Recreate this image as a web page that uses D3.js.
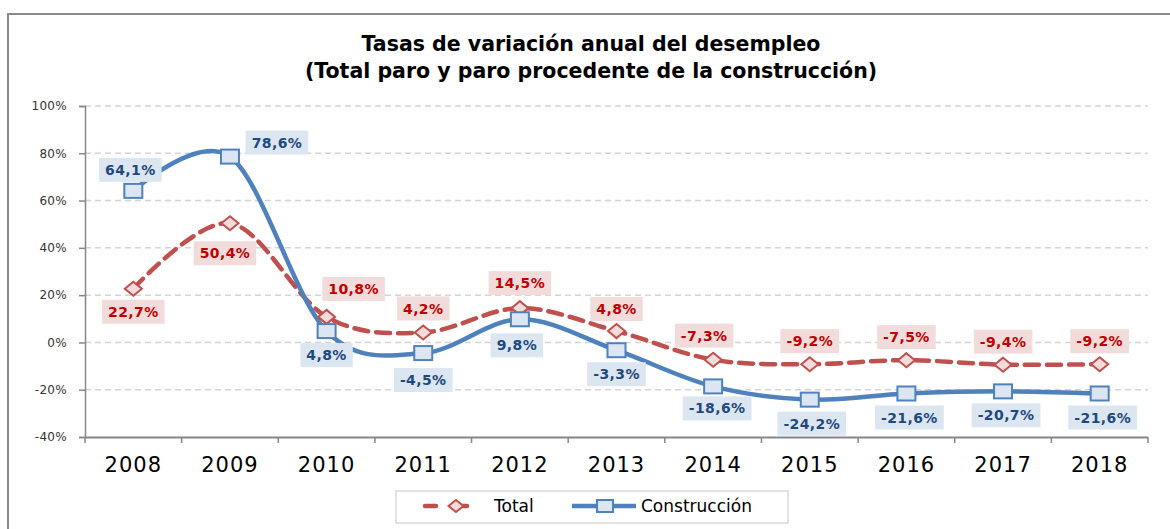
<!DOCTYPE html>
<html>
<head>
<meta charset="utf-8">
<script src="https://cdn.jsdelivr.net/npm/d3@7"></script>
<style>
  html, body { margin: 0; padding: 0; background: #ffffff; }
  svg { display: block; }
</style>
</head>
<body>
<svg id="chart" width="1170" height="529"></svg>
<script>
// ---- Data ----
const years = ["2008","2009","2010","2011","2012","2013","2014","2015","2016","2017","2018"];
const totalValues = [22.7, 50.4, 10.8, 4.2, 14.5, 4.8, -7.3, -9.2, -7.5, -9.4, -9.2];
const construccionValues = [64.1, 78.6, 4.8, -4.5, 9.8, -3.3, -18.6, -24.2, -21.6, -20.7, -21.6];
const yTickValues = [-40, -20, 0, 20, 40, 60, 80, 100];
const seriesNames = ["Total", "Construcción"];
const titleLines = ["Tasas de variación anual del desempleo", "(Total paro y paro procedente de la construcción)"];

// ---- Label placement (layout, pixel offsets from the point) ----
const totalLabelOffsets = [[0,23],[-5,30],[27,-28],[0,-24],[0,-25],[0,-22],[-9,-24],[0,-23],[0,-23],[0,-23],[0,-23]];
const consLabelOffsets = [[-3,-21],[47,-14],[0,24],[0,27],[-3,26],[0,24],[4,22],[2,24],[3,24],[3,24],[3,24]];

const fmt = v => (v < 0 ? "-" : "") + Math.abs(v).toFixed(1).replace(".", ",") + "%";

const svg = d3.select("#chart");

// outer frame
svg.append("rect").attr("x", 8).attr("y", 14).attr("width", 1200).attr("height", 600)
  .attr("fill", "none").attr("stroke", "#8a8a8a").attr("stroke-width", 2);

const pLeft = 85, pRight = 1148, pTop = 106, pBottom = 437;
const x = d3.scaleBand().domain(years).range([pLeft, pRight]).paddingInner(0).paddingOuter(0);
const y = d3.scaleLinear().domain([-40, 100]).range([pBottom, pTop]);
const cx = d => x(d) + x.bandwidth() / 2;

// title
const title = svg.append("text").attr("text-anchor", "middle")
  .attr("font-family", "DejaVu Sans, Verdana, sans-serif").attr("font-weight", "bold")
  .attr("font-size", 20.5).attr("fill", "#000");
title.append("tspan").attr("x", 591).attr("y", 51).text(titleLines[0]);
title.append("tspan").attr("x", 591).attr("y", 78).text(titleLines[1]);

// gridlines
svg.append("g").selectAll("line").data(yTickValues.filter(v => v !== -40)).join("line")
  .attr("x1", pLeft).attr("x2", pRight).attr("y1", d => y(d)).attr("y2", d => y(d))
  .attr("stroke", "#d4d4d4").attr("stroke-width", 1.5).attr("stroke-dasharray", "6,4");

// y axis
const yAxis = d3.axisLeft(y).tickValues(yTickValues).tickSize(6).tickPadding(12)
  .tickFormat(d => d + "%");
const gy = svg.append("g").attr("transform", `translate(${pLeft},0)`).call(yAxis);
gy.select(".domain").attr("stroke", "#868686").attr("stroke-width", 1.5);
gy.selectAll(".tick line").attr("stroke", "#868686").attr("stroke-width", 1.5);
gy.selectAll(".tick text").attr("font-family", "DejaVu Sans, Verdana, sans-serif")
  .attr("font-size", 12).attr("fill", "#333").attr("letter-spacing", 0.3);

// x axis
const xAxis = d3.axisBottom(x).tickSize(0).tickPadding(20);
const gx = svg.append("g").attr("transform", `translate(0,${pBottom})`).call(xAxis);
gx.select(".domain").attr("stroke", "#868686").attr("stroke-width", 2).attr("d", `M${pLeft},0.5H${pRight}`);
gx.selectAll(".tick text").attr("font-family", "DejaVu Sans, Verdana, sans-serif")
  .attr("font-size", 21).attr("fill", "#000").attr("letter-spacing", 1).attr("dy", "0.71em");
// category separator ticks
const sepPositions = years.map(d => x(d)).concat([pRight]);
gx.append("g").selectAll("line").data(sepPositions).join("line")
  .attr("x1", d => d).attr("x2", d => d).attr("y1", 0).attr("y2", 6)
  .attr("stroke", "#868686").attr("stroke-width", 1.5);

// lines
const lineGen = vals => d3.line()
  .x((d, i) => cx(years[i])).y(d => y(d))
  .curve(d3.curveCardinal.tension(0))(vals);

svg.append("path").attr("d", lineGen(totalValues)).attr("fill", "none")
  .attr("stroke", "#c0504d").attr("stroke-width", 4.5)
  .attr("stroke-dasharray", "14,8").attr("stroke-linecap", "round");
svg.append("path").attr("d", lineGen(construccionValues)).attr("fill", "none")
  .attr("stroke", "#4f81bd").attr("stroke-width", 4.5).attr("stroke-linejoin", "round");

// markers
const diamond = (w, h) => `M0,${-h/2}L${w/2},0L0,${h/2}L${-w/2},0Z`;
svg.append("g").selectAll("path").data(totalValues).join("path")
  .attr("transform", (d, i) => `translate(${cx(years[i])},${y(d)})`)
  .attr("d", diamond(17, 14)).attr("fill", "#f2dcdb").attr("stroke", "#c0504d").attr("stroke-width", 2);
svg.append("g").selectAll("rect").data(construccionValues).join("rect")
  .attr("x", (d, i) => cx(years[i]) - 9).attr("y", d => y(d) - 7)
  .attr("width", 18).attr("height", 14)
  .attr("fill", "#dce6f2").attr("stroke", "#4f81bd").attr("stroke-width", 2);

// data labels
function drawLabels(vals, offsets, bg, fg) {
  const g = svg.append("g");
  vals.forEach((v, i) => {
    const px = cx(years[i]) + offsets[i][0];
    const py = y(v) + offsets[i][1];
    const lg = g.append("g");
    const t = lg.append("text").attr("x", px).attr("y", py).attr("dy", "0.36em")
      .attr("text-anchor", "middle").attr("font-family", "DejaVu Sans, Verdana, sans-serif")
      .attr("font-weight", "bold").attr("font-size", 14).attr("letter-spacing", 0.4)
      .attr("fill", fg).text(fmt(v));
    const bb = t.node().getBBox();
    lg.insert("rect", "text").attr("x", px - bb.width / 2 - 6).attr("y", py - 12)
      .attr("width", bb.width + 12).attr("height", 24).attr("fill", bg);
  });
}
drawLabels(totalValues, totalLabelOffsets, "#f2dcdb", "#c00000");
drawLabels(construccionValues, consLabelOffsets, "#dce6f1", "#1f497d");

// legend
const lg = svg.append("g");
lg.append("rect").attr("x", 396).attr("y", 491).attr("width", 392).attr("height", 32)
  .attr("fill", "#fff").attr("stroke", "#d9d9d9").attr("stroke-width", 1.5);
const ly = 506;
lg.append("line").attr("x1", 425).attr("x2", 487).attr("y1", ly).attr("y2", ly)
  .attr("stroke", "#c0504d").attr("stroke-width", 4.5).attr("stroke-dasharray", "11,20")
  .attr("stroke-linecap", "round");
lg.append("path").attr("transform", `translate(456,${ly})`).attr("d", diamond(15, 12))
  .attr("fill", "#f2dcdb").attr("stroke", "#c0504d").attr("stroke-width", 2);
lg.append("text").attr("x", 494).attr("y", ly).attr("dy", "0.36em")
  .attr("font-family", "DejaVu Sans, Verdana, sans-serif").attr("font-size", 17)
  .attr("fill", "#000").text(seriesNames[0]);
lg.append("line").attr("x1", 572).attr("x2", 636).attr("y1", ly).attr("y2", ly)
  .attr("stroke", "#4f81bd").attr("stroke-width", 4.5);
lg.append("rect").attr("x", 597).attr("y", ly - 6).attr("width", 16).attr("height", 12)
  .attr("fill", "#dce6f2").attr("stroke", "#4f81bd").attr("stroke-width", 2);
lg.append("text").attr("x", 641).attr("y", ly).attr("dy", "0.36em")
  .attr("font-family", "DejaVu Sans, Verdana, sans-serif").attr("font-size", 17)
  .attr("fill", "#000").text(seriesNames[1]);
</script>
</body>
</html>
